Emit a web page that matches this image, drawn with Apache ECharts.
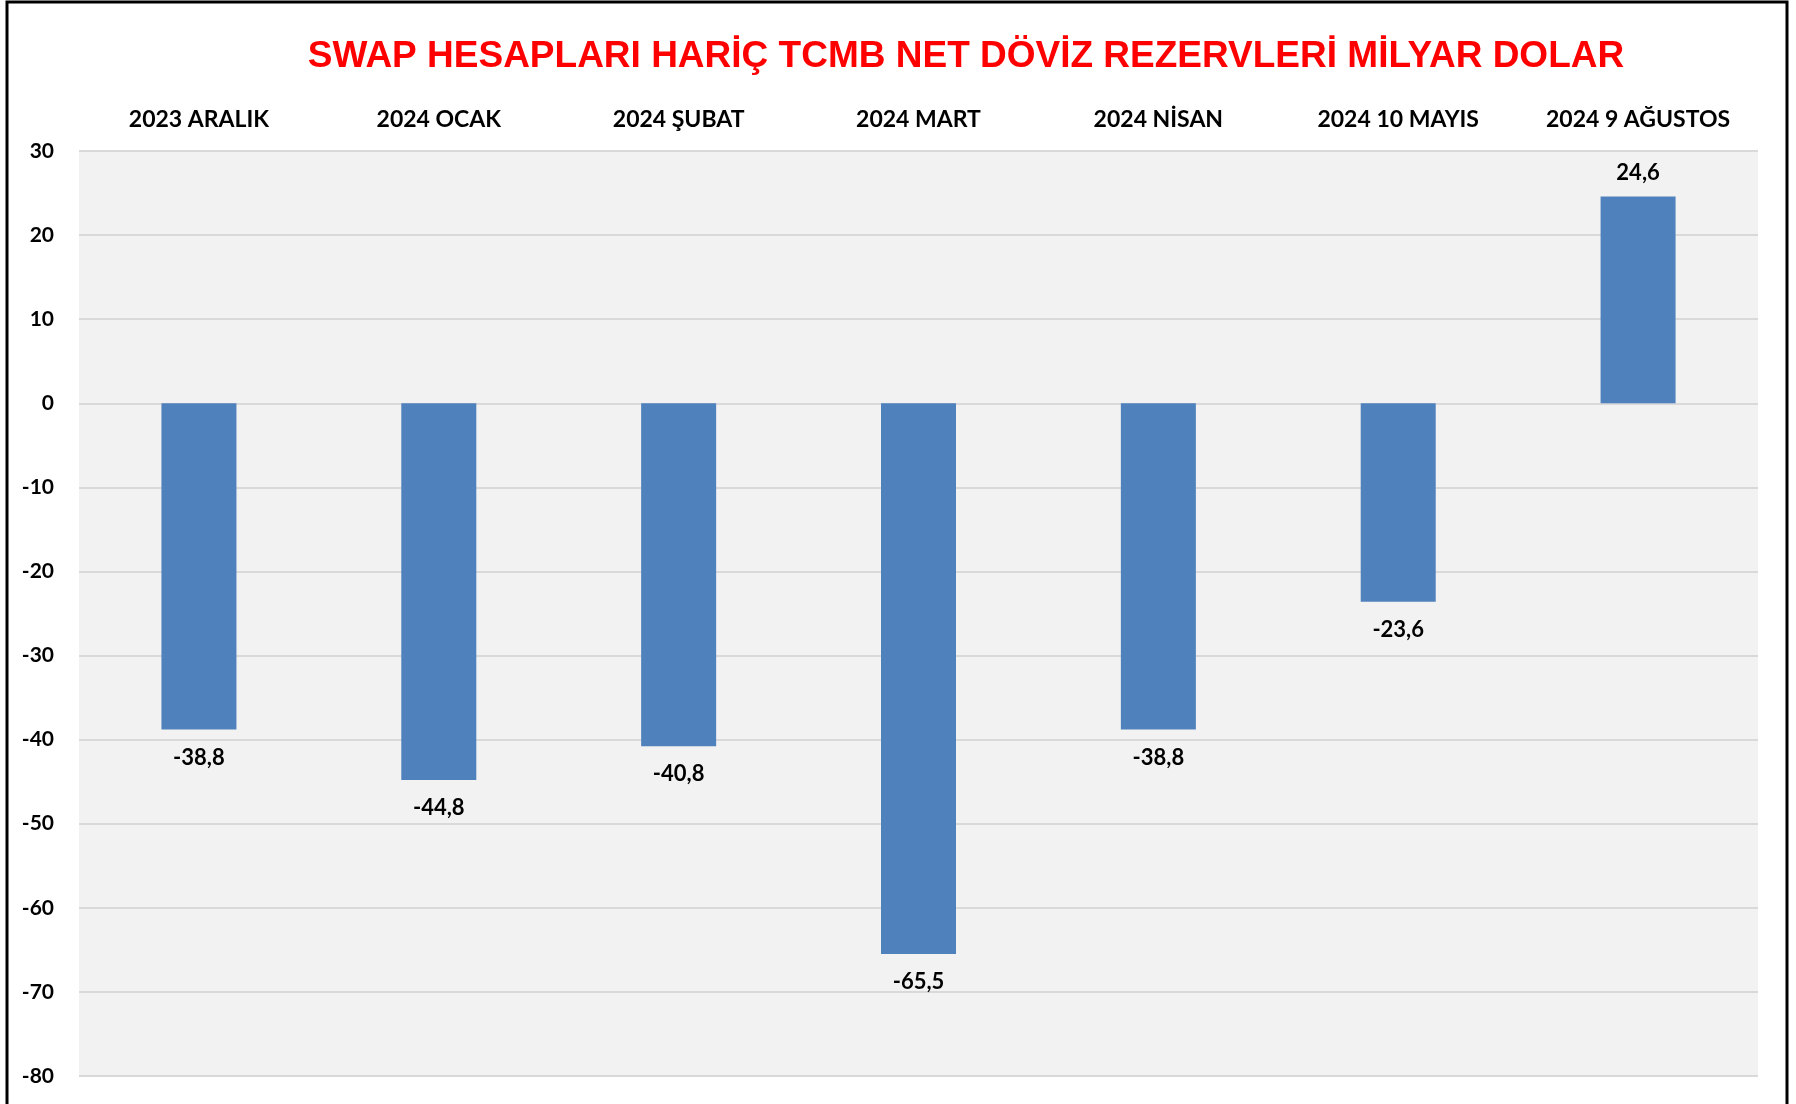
<!DOCTYPE html>
<html>
<head>
    <meta charset="UTF-8">
    <title>TCMB Net Döviz Rezervleri</title>
    <script src="https://cdn.jsdelivr.net/npm/echarts@6/dist/echarts.min.js"></script>
    <style type="text/css">
        html, body, #main {
            height: 100%;
            width: 100%;
            margin: 0;
            padding: 0;
            background: #ffffff;
        }
    </style>
</head>
<body>
<div id="main"></div>
<script type="text/javascript">
    // veriler
    var donemler = ['2023 ARALIK', '2024 OCAK', '2024 ŞUBAT', '2024 MART', '2024 NİSAN', '2024 10 MAYIS', '2024 9 AĞUSTOS'];
    var rezervler = [-38.8, -44.8, -40.8, -65.5, -38.8, -23.6, 24.6];
    var eksenMin = -80, eksenMax = 30, eksenAdim = 10;

    var mycharts = echarts.init(document.getElementById('main'));

    var option = {
        backgroundColor: '#ffffff',
        animation: false,
        title: {
            text: 'SWAP HESAPLARI HARİÇ TCMB NET DÖVİZ REZERVLERİ MİLYAR DOLAR',
            left: 961,
            top: 33,
            textAlign: 'center',
            textStyle: {
                color: '#ff0000',
                fontFamily: 'Liberation Sans',
                fontWeight: 'bold',
                fontSize: 37
            }
        },
        // dış çerçeve
        graphic: [{
            type: 'polyline',
            shape: { points: [[7, 1120], [7, 2], [1787, 2], [1787, 1120]] },
            style: { stroke: '#000', lineWidth: 3, fill: null },
            silent: true
        }],
        grid: {
            left: 79,
            right: 38,
            top: 151,
            bottom: 28,
            show: true,
            backgroundColor: '#F2F2F2',
            borderWidth: 0
        },
        xAxis: {
            type: 'category',
            position: 'top',
            data: donemler,
            axisLine: { show: false },
            axisTick: { show: false },
            axisLabel: {
                margin: 20,
                color: '#000',
                fontFamily: 'Lato',
                fontWeight: 'bold',
                fontSize: 23
            }
        },
        yAxis: {
            type: 'value',
            min: eksenMin,
            max: eksenMax,
            interval: eksenAdim,
            axisLine: { show: false },
            axisTick: { show: false },
            axisLabel: {
                margin: 25,
                color: '#000',
                fontFamily: 'Lato',
                fontWeight: 'bold',
                fontSize: 21
            },
            splitLine: {
                lineStyle: { color: '#D9D9D9', width: 2 }
            }
        },
        series: [{
            type: 'bar',
            name: 'Net rezerv',
            barWidth: 75,
            itemStyle: { color: '#4F81BD' },
            data: rezervler.map(function (v) {
                return {
                    value: v,
                    label: { position: v >= 0 ? 'top' : 'bottom', distance: v >= 0 ? 13 : 17 }
                };
            }),
            label: {
                show: true,
                color: '#000',
                fontFamily: 'Lato',
                fontWeight: 'bold',
                fontSize: 22,
                formatter: function (p) {
                    return String(p.value).replace('.', ',');
                }
            }
        }]
    };
    mycharts.setOption(option);
</script>
</body>
</html>
